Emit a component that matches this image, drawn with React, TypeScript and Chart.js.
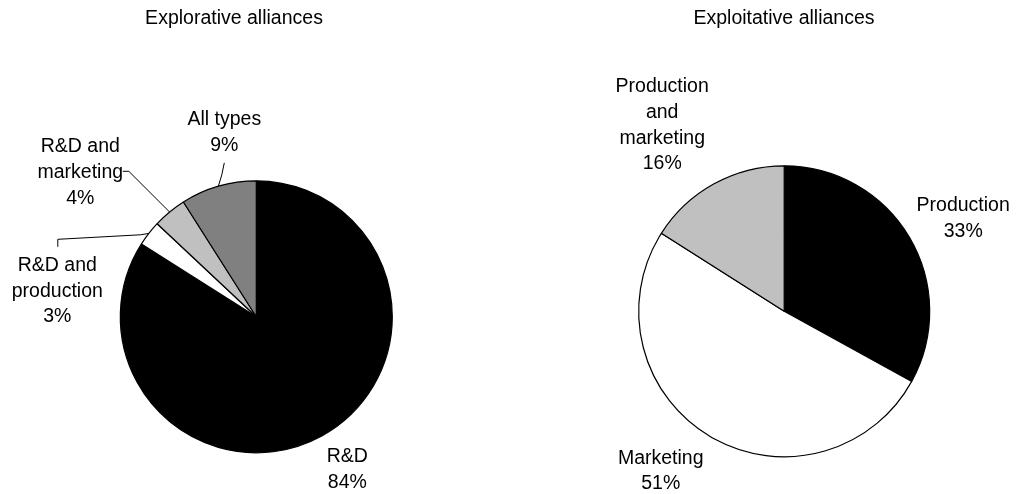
import { useEffect, useRef } from "react";
import { Chart, registerables } from "chart.js";

Chart.register(...registerables);

// ---------- data ----------
const exploreTitle = "Explorative alliances";
const exploreCategories = [["R&D"], ["R&D and", "production"], ["R&D and", "marketing"], ["All types"]];
const exploreValues = [84, 3, 4, 9];
const exploreColors = ["#000000", "#ffffff", "#c0c0c0", "#808080"];

const exploitTitle = "Exploitative alliances";
const exploitCategories = [["Production"], ["Marketing"], ["Production", "and", "marketing"]];
const exploitValues = [33, 51, 16];
const exploitColors = ["#000000", "#ffffff", "#c0c0c0"];

// ---------- layout / style ----------
const FONT = '19.5px "Liberation Sans", Arial, sans-serif';
const LINE_H = 25.8;

type LabelPos = { dx: number; dy: number; leader?: number[][] };

const exploreLabelPos: LabelPos[] = [
  { dx: 91, dy: 145 },
  { dx: -199, dy: -46, leader: [[-198.5, -70], [-198.5, -77.5], [-116, -82]] },
  { dx: -176, dy: -164.5, leader: [[-133.5, -145.5], [-127.5, -145.5]] },
  { dx: -32, dy: -191.5, leader: [[-32, -154], [-34.5, -142]] },
];

const exploitLabelPos: LabelPos[] = [
  { dx: 179, dy: -100 },
  { dx: -123.5, dy: 152.3 },
  { dx: -122, dy: -219.3 },
];

interface PieSpec {
  title: string;
  titleX: number;
  titleY: number;
  categories: string[][];
  values: number[];
  colors: string[];
  labelPos: LabelPos[];
  radius: number;
  padding: { left: number; top: number; right: number; bottom: number };
}

const W = 508;
const H = 494;

function makeLabelPlugin(spec: PieSpec) {
  return {
    id: "sliceLabels",
    afterDraw(chart: any) {
      const ctx = chart.ctx as CanvasRenderingContext2D;
      const meta = chart.getDatasetMeta(0);
      ctx.save();
      ctx.font = FONT;
      ctx.fillStyle = "#000";
      ctx.textAlign = "center";
      ctx.textBaseline = "alphabetic";
      ctx.fillText(spec.title, spec.titleX, spec.titleY);
      meta.data.forEach((arc: any, i: number) => {
        const { x, y, startAngle, endAngle, outerRadius } = arc.getProps(
          ["x", "y", "startAngle", "endAngle", "outerRadius"],
          true
        );
        const pos = spec.labelPos[i];
        const lines = [...spec.categories[i], `${spec.values[i]}%`];
        lines.forEach((ln, k) => ctx.fillText(ln, x + pos.dx, y + pos.dy + k * LINE_H));
        if (pos.leader) {
          const mid = (startAngle + endAngle) / 2;
          const ex = x + Math.cos(mid) * outerRadius;
          const ey = y + Math.sin(mid) * outerRadius;
          ctx.beginPath();
          pos.leader.forEach(([lx, ly], k) => {
            if (k === 0) ctx.moveTo(x + lx, y + ly);
            else ctx.lineTo(x + lx, y + ly);
          });
          ctx.lineTo(ex, ey);
          ctx.strokeStyle = "#000";
          ctx.lineWidth = 1;
          ctx.stroke();
        }
      });
      ctx.restore();
    },
  };
}

function PieChart({ spec, left }: { spec: PieSpec; left: number }) {
  const ref = useRef<HTMLCanvasElement | null>(null);
  useEffect(() => {
    if (!ref.current) return;
    const chart = new Chart(ref.current, {
      type: "pie",
      data: {
        labels: spec.categories.map((c) => c.join(" ")),
        datasets: [
          {
            data: spec.values,
            backgroundColor: spec.colors,
            borderColor: "#000000",
            borderWidth: 1.2,
          },
        ],
      },
      options: {
        responsive: false,
        animation: false,
        devicePixelRatio: 1,
        radius: spec.radius,
        layout: { padding: spec.padding },
        plugins: {
          legend: { display: false },
          tooltip: { enabled: false },
          title: { display: false },
        },
        events: [],
      } as any,
      plugins: [makeLabelPlugin(spec)],
    });
    return () => chart.destroy();
  }, [spec]);
  return (
    <canvas
      ref={ref}
      width={W}
      height={H}
      style={{ position: "absolute", left, top: 0, width: W, height: H }}
    />
  );
}

const exploreSpec: PieSpec = {
  title: exploreTitle,
  titleX: 234,
  titleY: 24.3,
  categories: exploreCategories,
  values: exploreValues,
  colors: exploreColors,
  labelPos: exploreLabelPos,
  radius: 136,
  padding: { left: 4.6, top: 139.6, right: 0, bottom: 0 },
};

const exploitSpec: PieSpec = {
  title: exploitTitle,
  titleX: 276,
  titleY: 24.3,
  categories: exploitCategories,
  values: exploitValues,
  colors: exploitColors,
  labelPos: exploitLabelPos,
  radius: 145.5,
  padding: { left: 44.4, top: 128.6, right: 0, bottom: 0 },
};

export default function App() {
  return (
    <div
      style={{
        position: "fixed",
        left: 0,
        top: 0,
        width: 1016,
        height: 494,
        background: "#ffffff",
        overflow: "hidden",
      }}
    >
      <PieChart spec={exploreSpec} left={0} />
      <PieChart spec={exploitSpec} left={508} />
    </div>
  );
}
